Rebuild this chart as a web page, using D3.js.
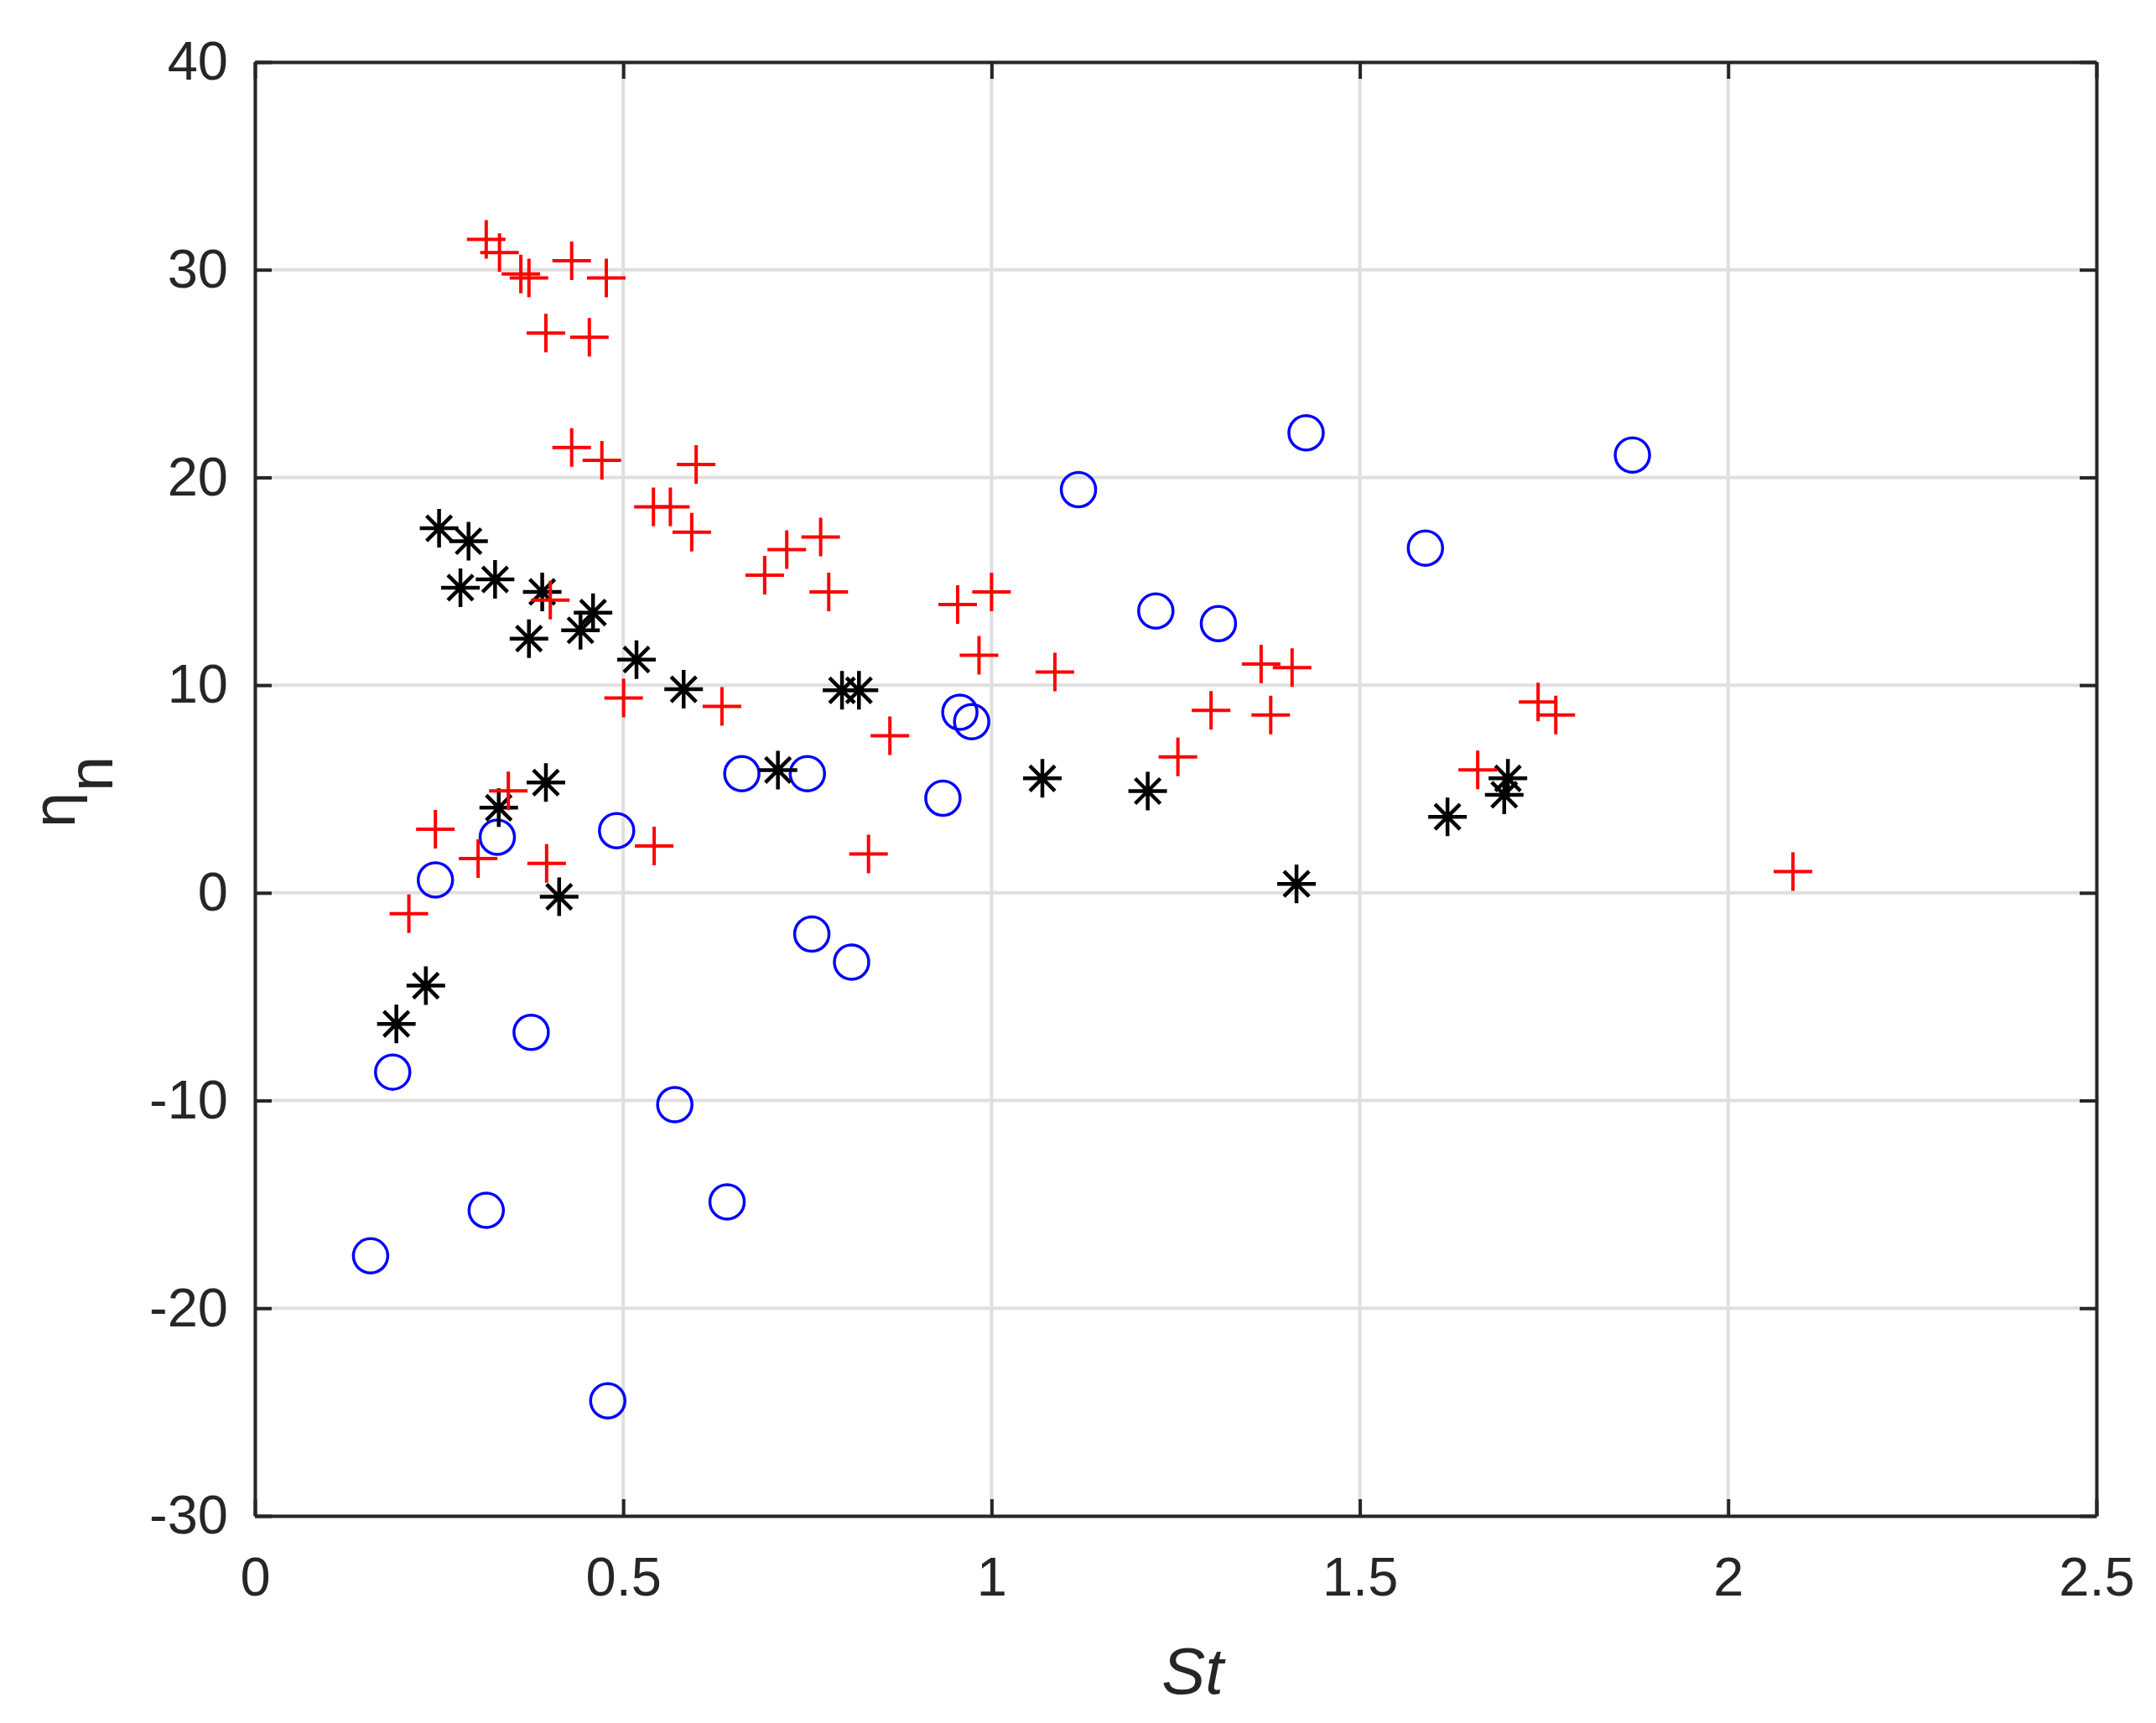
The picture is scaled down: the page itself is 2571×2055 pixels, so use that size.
<!DOCTYPE html>
<html>
<head>
<meta charset="utf-8">
<script src="https://cdn.jsdelivr.net/npm/d3@7"></script>
<style>
  body { margin: 0; background: #fff; }
  svg text { font-family: "Liberation Sans", Arial, Helvetica, sans-serif; fill: #262626; }
</style>
</head>
<body>
<div id="chart"></div>
<script>
'use strict';
// St vs eta_n, three series
const bluePts = [
  [0.157, -17.48], [0.187, -8.63], [0.245, 0.62], [0.314, -15.29], [0.329, 2.68],
  [0.375, -6.72], [0.479, -24.46], [0.491, 2.99], [0.570, -10.2], [0.641, -14.88],
  [0.661, 5.74], [0.750, 5.74], [0.756, -1.98], [0.810, -3.34], [0.934, 4.56],
  [0.957, 8.69], [0.973, 8.24], [1.118, 19.41], [1.223, 13.57], [1.308, 12.96],
  [1.427, 22.15], [1.589, 16.6], [1.870, 21.08]
];
const blackPts = [
  [0.192, -6.31], [0.232, -4.47], [0.250, 17.55], [0.279, 14.69], [0.290, 16.93],
  [0.326, 15.09], [0.331, 4.10], [0.372, 12.24], [0.390, 14.49], [0.395, 5.31],
  [0.413, -0.19], [0.442, 12.64], [0.459, 13.49], [0.518, 11.23], [0.582, 9.80],
  [0.710, 5.91], [0.797, 9.75], [0.820, 9.75], [1.069, 5.51], [1.212, 4.90],
  [1.414, 0.43], [1.619, 3.66], [1.696, 4.72], [1.701, 5.51]
];
const redPts = [
  [0.209, -1.0], [0.245, 3.06], [0.303, 1.65], [0.314, 31.46], [0.332, 30.83],
  [0.344, 4.91], [0.361, 29.80], [0.372, 29.60], [0.395, 26.95], [0.396, 1.42],
  [0.401, 14.09], [0.430, 30.43], [0.430, 21.44], [0.454, 26.75], [0.471, 20.82],
  [0.477, 29.61], [0.5005, 9.38], [0.541, 18.58], [0.542, 2.25], [0.564, 18.58],
  [0.593, 17.36], [0.599, 20.62], [0.634, 8.98], [0.692, 15.29], [0.722, 16.53],
  [0.768, 17.13], [0.779, 14.49], [0.833, 1.87], [0.862, 7.56], [0.954, 13.88],
  [0.983, 11.44], [1.0, 14.49], [1.086, 10.63], [1.253, 6.54], [1.298, 8.78],
  [1.366, 11.02], [1.379, 8.56], [1.408, 10.84], [1.660, 5.92], [1.742, 9.19],
  [1.766, 8.56], [2.088, 1.02]
];
const xTicks = [0, 0.5, 1, 1.5, 2, 2.5];
const yTicks = [-30, -20, -10, 0, 10, 20, 30, 40];
const xLabel = "St";

const W = 2571, H = 2055;
const m = { left: 304, right: 2500, top: 74, bottom: 1808 };
const axisColor = "#262626";

const svg = d3.select("#chart").append("svg")
  .attr("width", W)
  .attr("height", H);

const x = d3.scaleLinear().domain([0, 2.5]).range([m.left, m.right]);
const y = d3.scaleLinear().domain([-30, 40]).range([m.bottom, m.top]);

// grid
const grid = svg.append("g").attr("class", "grid");
grid.selectAll("line.vx").data(xTicks).join("line")
  .attr("class", "vx")
  .attr("x1", d => x(d)).attr("x2", d => x(d))
  .attr("y1", m.top).attr("y2", m.bottom)
  .attr("stroke", "#dfdfdf").attr("stroke-width", 4);
grid.selectAll("line.hy").data(yTicks).join("line")
  .attr("class", "hy")
  .attr("x1", m.left).attr("x2", m.right)
  .attr("y1", d => y(d)).attr("y2", d => y(d))
  .attr("stroke", "#dfdfdf").attr("stroke-width", 4);

// markers: blue circles, then black asterisks, red pluses on top
const arm = 23;
svg.append("g").selectAll("circle").data(bluePts).join("circle")
  .attr("cx", d => x(d[0])).attr("cy", d => y(d[1]))
  .attr("r", 20.5)
  .attr("fill", "none").attr("stroke", "#0000ff").attr("stroke-width", 3.5);

const diag = 15;
const starPath = `M${-arm},0H${arm}M0,${-arm}V${arm}` +
  `M${-diag},${-diag}L${diag},${diag}M${-diag},${diag}L${diag},${-diag}`;
svg.append("g").selectAll("path").data(blackPts).join("path")
  .attr("transform", d => "translate(" + x(d[0]) + "," + y(d[1]) + ")")
  .attr("d", starPath)
  .attr("fill", "none").attr("stroke", "#000").attr("stroke-width", 4.5);

const plusPath = `M${-arm},0H${arm}M0,${-arm}V${arm}`;
svg.append("g").selectAll("path").data(redPts).join("path")
  .attr("transform", d => "translate(" + x(d[0]) + "," + y(d[1]) + ")")
  .attr("d", plusPath)
  .attr("fill", "none").attr("stroke", "#ff0000").attr("stroke-width", 4);

// axes (ticks point inwards, box on all four sides)
function styleAxis(g) {
  g.select(".domain").attr("stroke", axisColor).attr("stroke-width", 4);
  g.selectAll(".tick line").attr("stroke", axisColor).attr("stroke-width", 4);
  g.selectAll(".tick text")
    .attr("fill", axisColor)
    .style("font-size", "65px")
    .style("font-family", "'Liberation Sans', Arial, sans-serif");
}
svg.append("g")
  .attr("transform", "translate(0," + m.bottom + ")")
  .call(d3.axisBottom(x).tickValues(xTicks).tickFormat(d => String(d))
    .tickSizeInner(-20).tickSizeOuter(0).tickPadding(49))
  .call(styleAxis);
svg.append("g")
  .attr("transform", "translate(0," + m.top + ")")
  .call(d3.axisTop(x).tickValues(xTicks).tickFormat("")
    .tickSizeInner(-20).tickSizeOuter(0))
  .call(styleAxis);
svg.append("g")
  .attr("transform", "translate(" + m.left + ",0)")
  .call(d3.axisLeft(y).tickValues(yTicks).tickFormat(d => String(d))
    .tickSizeInner(-20).tickSizeOuter(0).tickPadding(32))
  .call(styleAxis);
svg.append("g")
  .attr("transform", "translate(" + m.right + ",0)")
  .call(d3.axisRight(y).tickValues(yTicks).tickFormat("")
    .tickSizeInner(-20).tickSizeOuter(0))
  .call(styleAxis);

// axis labels
svg.append("text")
  .attr("x", (m.left + m.right) / 2 + 20)
  .attr("y", 2020)
  .attr("text-anchor", "middle")
  .style("font-size", "78px")
  .style("font-style", "italic")
  .text(xLabel);

const yl = svg.append("text")
  .attr("transform", "translate(90," + ((m.top + m.bottom) / 2 + 4) + ") rotate(-90)")
  .attr("text-anchor", "middle")
  .style("font-size", "76px");
yl.append("tspan").style("font-family", "'DejaVu Sans', sans-serif").style("font-size", "70px").text("η");
yl.append("tspan").attr("dy", 44).text("n");
</script>
</body>
</html>
